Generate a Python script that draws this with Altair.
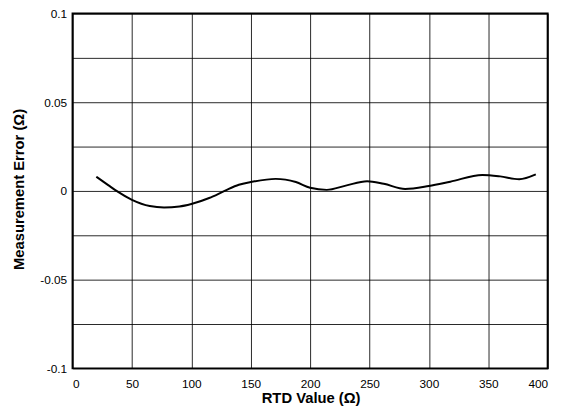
import altair as alt
import pandas as pd

rtd = [20, 30, 37, 50, 65, 77, 90, 100, 115, 128, 140, 150, 171, 188, 200, 214,
       230, 248, 262, 280, 300, 318, 345, 360, 376, 390]
err = [0.008, 0.0033, 0.0, -0.005, -0.0085, -0.0093, -0.0088, -0.0074, -0.004, 0.0,
       0.0035, 0.005, 0.0068, 0.005, 0.0018, 0.0006, 0.003, 0.0055, 0.004, 0.0011,
       0.0028, 0.0052, 0.009, 0.0082, 0.0066, 0.0093]

x_ticks = [0, 50, 100, 150, 200, 250, 300, 350, 400]
y_ticks = [-0.1, -0.075, -0.05, -0.025, 0, 0.025, 0.05, 0.075, 0.1]

df = pd.DataFrame({"rtd": rtd, "err": err})

FONT = "Liberation Sans"

chart = alt.Chart(df).mark_line(color="black", strokeWidth=2, interpolate="monotone").encode(
    x=alt.X("rtd:Q",
            scale=alt.Scale(domain=[0, 400], nice=False, zero=False),
            axis=alt.Axis(values=x_ticks, title="RTD Value (Ω)", format="d",
                          labelPadding=10, titleX=241.5, titleY=35,
                          titleBaseline="alphabetic", titleAlign="center")),
    y=alt.Y("err:Q",
            scale=alt.Scale(domain=[-0.1, 0.1], nice=False, zero=False),
            axis=alt.Axis(values=y_ticks, title="Measurement Error (Ω)",
                          labelExpr="round(datum.value*1000) % 50 == 0 ? '' + datum.value : ''",
                          labelPadding=6, titleX=-49.5, titleY=178, titleAngle=270,
                          titleBaseline="alphabetic", titleAlign="center")),
).properties(
    width=482,
    height=360,
    background="white",
    autosize=alt.AutoSizeParams(type="none"),
    padding={"left": 65.5, "top": 2.7, "right": 11.5, "bottom": 37},
).configure_view(
    stroke="black", strokeWidth=2
).configure_axis(
    grid=True, gridColor="#000", gridWidth=1, gridOpacity=0.85,
    domain=False, ticks=False,
    labelFont=FONT, labelFontSize=12, labelColor="#000",
    titleFont=FONT, titleFontSize=15, titleFontWeight="bold", titleColor="#000",
)

chart.save("out.html", embed_options={"renderer": "svg", "actions": False})
